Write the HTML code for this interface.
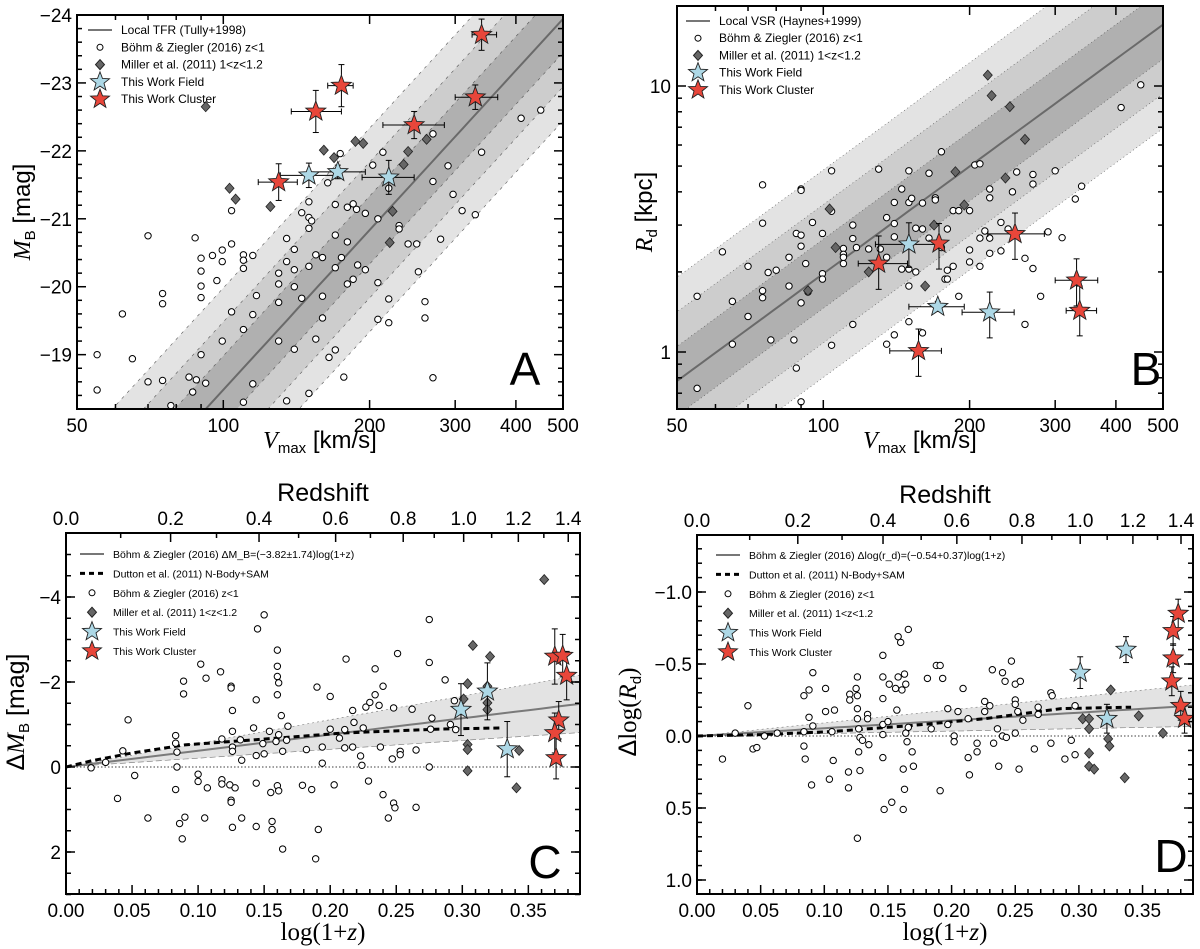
<!DOCTYPE html>
<html><head><meta charset="utf-8">
<style>
html,body{margin:0;padding:0;background:#fff;}
svg{display:block;font-family:"Liberation Sans",sans-serif;}
</style></head>
<body>
<svg id="fig" width="1200" height="949" viewBox="0 0 1200 949" xmlns="http://www.w3.org/2000/svg"></svg>
<script>
// ---------- Panel A data (Vmax km/s, M_B) ----------
const aCircV=[55,55,62,65,70,70,75,75,75,85,86.5,87.5,90,90,90,90,90,88,92,95,97,99.5,99.5,99.5,104,104,104,110,110,110,110,110,115,115,115,117,130,130,130,130,135,135,135,140,140,140,140,145,145,150,150,150,150,150,152,155,155,160,160,160,164,170,170,170,170,165,174,175,177,180,180,180,185,185,188,189,196,196,203,208,208,208,213,219,219,219,230,230,240,250,252,260,260,270,270,270,280,290,297,310,330,340,410,450,78];
const aCircM=[-19.0,-18.48,-19.6,-18.94,-20.75,-18.6,-19.9,-19.75,-18.62,-18.67,-18.45,-20.72,-20.42,-20.23,-20.01,-19.84,-19.0,-18.63,-18.58,-20.46,-20.09,-20.54,-20.37,-19.2,-21.12,-20.63,-19.63,-20.47,-20.39,-20.27,-19.37,-18.3,-20.46,-19.59,-18.57,-19.87,-20.2,-20.04,-19.77,-19.2,-20.71,-20.37,-18.32,-20.55,-20.25,-20.0,-19.08,-19.83,-21.09,-21.25,-21.02,-20.86,-20.3,-18.43,-20.97,-20.47,-19.23,-20.43,-19.86,-19.54,-21.53,-21.21,-20.76,-20.28,-19.07,-18.96,-21.96,-20.43,-18.67,-20.66,-20.04,-21.17,-21.22,-20.11,-21.14,-20.32,-21.08,-20.25,-21.79,-21.0,-20.06,-19.52,-21.98,-21.45,-19.82,-19.47,-20.9,-20.85,-20.63,-20.63,-20.22,-19.78,-19.54,-22.25,-21.55,-18.66,-20.7,-21.78,-21.36,-21.12,-21.06,-21.98,-22.48,-22.6,-18.25];
const aDiaV=[92,103,106,125,161,169,187,194,223,220,235,240,262];
const aDiaM=[-22.65,-21.45,-21.29,-21.18,-22.01,-21.9,-22.14,-22.11,-21.11,-20.65,-21.8,-21.99,-22.17];
const aFieldV=[150,172,219];
const aFieldM=[-21.64,-21.69,-21.61];
const aFieldVlo=[131,149,193];
const aFieldVhi=[172,196,247];
const aFieldMerr=[0.18,0.1,0.25];
const aClusV=[130,155,175,247,330,340];
const aClusM=[-21.54,-22.58,-22.96,-22.38,-22.79,-23.71];
const aClusVlo=[118,138,164,213,300,325];
const aClusVhi=[142,175,185,285,367,365];
const aClusMerr=[0.27,0.31,0.31,0.2,0.18,0.23];
const aXTicks=[50,100,200,300,400,500];
const aXMinor=[60,70,80,90];
const aYTicks=[-24,-23,-22,-21,-20,-19];

// ---------- Panel B data (Vmax km/s, R_d kpc) ----------
const bCircV=[55,55,62,65,65,70,70,75,75,75,75,77,78,80,85,85,87,88,90,90,90,90,90,90,88,92,93,95,99.6,99.6,99.6,104,104,104,110,110,110,110,115,115,115,117,124,130,131,135,135,135,140,140,140,140,145,145,150,150,150,150,150,152,155,155,160,160,160,165,165,170,170,175,175,180,180,178,180,185,185,190,190,200,200,200,205,210,210,210,215,220,220,220,220,232,232,240,245,250,260,260,270,270,270,280,290,300,310,330,340,410,450];
const bCircR=[1.62,0.73,2.38,1.55,1.07,2.1,1.36,4.25,3.05,1.7,1.6,1.99,1.11,2.03,2.27,1.77,1.11,2.79,4.1,4.05,2.75,2.5,1.53,0.65,0.87,2.15,1.68,3.07,2.79,1.97,1.88,4.8,3.38,1.06,2.45,2.33,2.27,2.15,3.0,2.67,1.27,2.47,2.44,4.87,2.44,3.2,1.07,2.27,3.65,3.04,2.71,1.16,4.1,2.05,4.8,3.65,2.05,1.77,1.3,3.78,2.92,2.0,2.9,3.63,1.18,4.7,2.68,3.8,3.73,5.66,2.47,2.9,2.03,1.88,1.88,3.4,2.1,1.62,3.4,3.4,2.42,2.18,5.05,5.1,2.68,2.1,2.85,4.1,3.8,2.68,2.35,3.07,2.4,2.9,4.0,4.75,2.25,1.27,4.65,4.28,2.06,1.62,2.83,4.8,2.69,3.76,4.2,8.3,10.1];
const bDiaV=[218,222,242,260,187,195,237,103,106,169,124,93,162];
const bDiaR=[10.99,9.2,8.36,6.3,4.76,3.57,4.51,3.45,2.47,3.0,2.0,1.7,1.77];
const bFieldV=[150,172,220];
const bFieldR=[2.54,1.48,1.41];
const bFieldVlo=[128,150,193];
const bFieldVhi=[175,195,247];
const bFieldRlo=[2.08,1.42,1.13];
const bFieldRhi=[3.06,1.55,1.68];
const bClusV=[130,173,248,332,337,157];
const bClusR=[2.15,2.56,2.78,1.86,1.43,1.01];
const bClusVlo=[118,173,218,300,316,137];
const bClusVhi=[149,173,285,367,365,175];
const bClusRlo=[1.72,2.05,2.23,1.49,1.15,0.81];
const bClusRhi=[2.73,3.04,3.33,2.24,1.77,1.22];
const bXTicks=[50,100,200,300,400,500];
const bYTicks=[1,10];
const bYMinor=[0.7,0.8,0.9,2,3,4,5,6,7,8,9,20];

// ---------- Panel C data (log(1+z), ΔM_B) ----------
const cCircX=[0.019,0.030,0.039,0.043,0.047,0.052,0.062,0.083,0.083,0.084,0.084,0.083,0.086,0.088,0.089,0.089,0.090,0.100,0.100,0.102,0.105,0.106,0.107,0.117,0.118,0.118,0.118,0.124,0.125,0.125,0.125,0.125,0.126,0.126,0.126,0.126,0.126,0.128,0.132,0.133,0.133,0.142,0.144,0.144,0.144,0.144,0.145,0.149,0.150,0.150,0.154,0.155,0.156,0.156,0.159,0.160,0.160,0.160,0.160,0.160,0.161,0.161,0.161,0.163,0.164,0.164,0.167,0.168,0.179,0.182,0.186,0.190,0.189,0.191,0.194,0.194,0.200,0.200,0.203,0.207,0.211,0.211,0.212,0.217,0.217,0.218,0.223,0.224,0.225,0.227,0.229,0.230,0.234,0.234,0.237,0.238,0.240,0.240,0.244,0.247,0.248,0.248,0.249,0.251,0.253,0.253,0.262,0.265,0.265,0.275,0.275,0.275,0.276,0.277,0.287,0.291,0.294,0.295];
const cCircY=[0.02,-0.11,0.74,-0.38,-1.11,0.2,1.2,-0.74,-0.56,-0.35,0,0.53,1.33,1.69,-1.72,-2.02,1.18,0.17,0.34,-2.42,1.2,-2.09,0.49,-2.24,-0.66,0.3,0.4,0.42,-1.9,-1.86,0.78,0.83,-1.33,-0.84,-0.47,-0.37,1.42,0.49,-0.64,-0.16,1.2,-0.92,-1.58,-0.27,0.38,1.4,-3.25,-0.55,-0.31,-3.58,-0.84,0.6,1.28,1.47,-0.6,0.44,-1.7,-2.75,-2.37,-2.13,-1.98,-0.76,0.56,-1.21,-0.37,1.93,-0.63,-0.96,0.43,-0.41,0.53,-1.88,2.16,1.47,-0.09,-0.47,-1.66,-0.89,0.42,-0.68,-0.88,-0.45,-2.54,-1.33,-0.47,-1.05,-0.26,-0.04,-0.92,-1.41,0.33,-1.52,-2.31,-1.7,-1.45,-0.47,0.65,-1.9,1.2,-0.19,-1.39,0.85,0.96,-2.67,-0.37,-0.29,-1.36,-0.4,0.95,0.0,-3.47,-2.46,-0.89,-1.15,-2.05,-1.0,-1.56,-0.88];
const cDiaX=[0.362,0.308,0.321,0.304,0.301,0.319,0.319,0.319,0.304,0.304,0.304,0.343,0.341];
const cDiaY=[-4.41,-2.86,-2.6,-1.96,-1.6,-1.9,-1.51,-1.35,-0.53,-0.41,0.09,-0.39,0.49];
const cFieldX=[0.299,0.319,0.334];
const cFieldY=[-1.35,-1.78,-0.42];
const cFieldErr=[0.61,0.67,0.65];
const cClusX=[0.370,0.376,0.379,0.373,0.370,0.371];
const cClusY=[-2.6,-2.62,-2.15,-1.1,-0.8,-0.21];
const cClusErr=[0.65,0.5,0.57,0.44,0.47,0.49];
const cDutX=[0,0.02,0.05,0.09,0.16,0.21,0.28,0.33];
const cDutY=[0,-0.15,-0.33,-0.52,-0.68,-0.8,-0.89,-0.92];
const cXTicks=[0,0.05,0.10,0.15,0.20,0.25,0.30,0.35];
const cXLabels=["0.00","0.05","0.10","0.15","0.20","0.25","0.30","0.35"];
const cYTicks=[-4,-2,0,2];
const cYLabels=["\u22124","\u22122","0","2"];

// ---------- Panel D data (log(1+z), Δlog R_d) ----------
const dCircX=[0.020,0.030,0.040,0.044,0.047,0.053,0.063,0.084,0.084,0.084,0.085,0.088,0.088,0.090,0.091,0.091,0.101,0.101,0.104,0.106,0.107,0.108,0.119,0.119,0.120,0.120,0.125,0.126,0.126,0.126,0.126,0.127,0.127,0.128,0.126,0.128,0.130,0.134,0.134,0.135,0.146,0.146,0.146,0.146,0.146,0.146,0.147,0.150,0.151,0.153,0.156,0.157,0.158,0.158,0.160,0.161,0.162,0.163,0.162,0.163,0.164,0.164,0.165,0.166,0.166,0.169,0.170,0.181,0.184,0.188,0.191,0.193,0.191,0.197,0.197,0.202,0.202,0.205,0.209,0.213,0.213,0.214,0.220,0.220,0.226,0.226,0.230,0.232,0.233,0.236,0.237,0.240,0.240,0.242,0.243,0.247,0.250,0.250,0.250,0.250,0.252,0.253,0.254,0.256,0.265,0.268,0.268,0.278,0.278,0.279,0.289,0.294,0.297,0.297];
const dCircY=[0.16,-0.02,-0.21,0.09,0.08,0,-0.02,-0.28,-0.03,0.07,0.16,-0.13,-0.32,0.34,-0.07,-0.44,-0.17,-0.33,0.3,-0.03,0.17,-0.18,0.25,0.36,-0.29,-0.25,-0.33,-0.41,-0.28,-0.19,-0.12,-0.05,0.11,0.24,0.71,0.01,0.03,-0.15,-0.12,0.06,-0.41,-0.26,-0.08,-0.01,0.15,-0.56,0.51,-0.1,-0.36,0.46,-0.33,-0.18,-0.69,-0.41,-0.65,-0.32,0.23,0.37,0.51,-0.43,-0.36,-0.02,0.04,-0.74,-0.06,0.11,0.21,-0.4,-0.05,-0.49,-0.49,-0.4,0.38,-0.19,-0.08,0,0.04,-0.17,-0.33,-0.12,0.15,0.27,0.05,0.11,-0.17,-0.24,-0.21,-0.46,0.05,-0.05,0.21,-0.44,0,-0.38,0.01,-0.52,-0.36,-0.25,-0.22,-0.02,-0.17,0.23,-0.38,-0.11,0.09,-0.15,-0.2,0.05,-0.3,-0.28,0.16,0.03,0.13,-0.21];
const dDiaX=[0.325,0.303,0.308,0.308,0.308,0.308,0.312,0.323,0.324,0.347,0.336,0.366];
const dDiaY=[-0.32,-0.12,-0.12,-0.05,0.12,0.21,0.23,0.02,0.07,-0.14,0.29,-0.02];
const dFieldX=[0.301,0.337,0.322];
const dFieldY=[-0.44,-0.6,-0.12];
const dFieldErr=[0.11,0.09,0.1];
const dClusX=[0.378,0.374,0.374,0.373,0.380,0.383];
const dClusY=[-0.85,-0.73,-0.54,-0.38,-0.21,-0.12];
const dClusErr=[0.1,0.1,0.1,0.1,0.1,0.1];
const dDutX=[0,0.052,0.104,0.165,0.226,0.286,0.341];
const dDutY=[0,-0.01,-0.03,-0.07,-0.12,-0.19,-0.2];
const dXTicks=[0,0.05,0.10,0.15,0.20,0.25,0.30,0.35];
const dXLabels=["0.00","0.05","0.10","0.15","0.20","0.25","0.30","0.35"];
const dYTicks=[-1.0,-0.5,0,0.5,1.0];
const dYLabels=["\u22121.0","\u22120.5","0.0","0.5","1.0"];

const zTicks=[0,0.2,0.4,0.6,0.8,1.0,1.2,1.4];
const zLabels=["0.0","0.2","0.4","0.6","0.8","1.0","1.2","1.4"];
const zMinor=[0.1,0.3,0.5,0.7,0.9,1.1,1.3];

// ---------- rendering ----------
const NS='http://www.w3.org/2000/svg';
const svg=document.getElementById('fig');
function mk(tag,attrs,parent){const e=document.createElementNS(NS,tag);for(const k in attrs)e.setAttribute(k,attrs[k]);(parent||svg).appendChild(e);return e;}
function starD(cx,cy,R){let d='';for(let i=0;i<10;i++){const r=i%2?R*0.42:R;const a=-Math.PI/2+i*Math.PI/5;d+=(i?'L':'M')+(cx+r*Math.cos(a)).toFixed(1)+' '+(cy+r*Math.sin(a)).toFixed(1);}return d+'Z';}
const L10=Math.log10;

function makePanel(id,x0,x1,y0,y1){
  const g=mk('g',{},svg);
  
  
  const cp=mk('clipPath',{id:'clip-'+id},g);
  mk('rect',{x:x0,y:y0,width:x1-x0,height:y1-y0},cp);
  const inner=mk('g',{'clip-path':'url(#clip-'+id+')'},g);
  
  
  return {g,inner,x0,x1,y0,y1};
}
function frame(P){
  const r=mk('rect',{x:P.x0,y:P.y0,width:P.x1-P.x0,height:P.y1-P.y0,fill:'none',stroke:'#000','stroke-width':2},P.g);
  
  
}
function tickX(P,px,len,top,bottom){
  if(bottom){const t=mk('line',{x1:px,x2:px,y1:P.y1,y2:P.y1-len,stroke:'#000','stroke-width':1.5},P.g);}
  if(top){const t=mk('line',{x1:px,x2:px,y1:P.y0,y2:P.y0+len,stroke:'#000','stroke-width':1.5},P.g);}
}
function tickY(P,py,len){
  const t=mk('line',{x1:P.x0,x2:P.x0+len,y1:py,y2:py,stroke:'#000','stroke-width':1.5},P.g);
  
  
  const t2=mk('line',{x1:P.x1,x2:P.x1-len,y1:py,y2:py,stroke:'#000','stroke-width':1.5},P.g);
  
  
}
function label(P,x,y,txt,size,anchor,name){
  const t=mk('text',{x:x,y:y,'font-size':size,'text-anchor':anchor||'middle',fill:'#000'},P?P.g:svg);
  t.textContent=txt;
  
  
  return t;
}
function circ(P,x,y){const c=mk('circle',{cx:x,cy:y,r:3.2,fill:'#fff',stroke:'#000','stroke-width':1},P.inner);
  
  }
function dia(P,x,y){const c=mk('path',{d:`M${x} ${y-5}L${x+4.5} ${y}L${x} ${y+5}L${x-4.5} ${y}Z`,fill:'#666',stroke:'#222','stroke-width':0.8},P.inner);
  
  }
function star(P,x,y,color,name){const s=mk('path',{d:starD(x,y,10.5),fill:color,stroke:'#222','stroke-width':0.9},P.inner);
  
  }
function ebar(P,xa,ya,xb,yb,cap,vertical){
  const l=mk('line',{x1:xa,y1:ya,x2:xb,y2:yb,stroke:'#000','stroke-width':1},P.inner);
  
  
  if(cap){
    if(vertical){mk('line',{x1:xa-3,x2:xa+3,y1:ya,y2:ya,stroke:'#000','stroke-width':1},P.inner);mk('line',{x1:xb-3,x2:xb+3,y1:yb,y2:yb,stroke:'#000','stroke-width':1},P.inner);}
    else{mk('line',{x1:xa,x2:xa,y1:ya-3,y2:ya+3,stroke:'#000','stroke-width':1},P.inner);mk('line',{x1:xb,x2:xb,y1:yb-3,y2:yb+3,stroke:'#000','stroke-width':1},P.inner);}
  }
}
function band(P,fnLo,fnHi,xs,fill,name){
  let d='';xs.forEach((v,i)=>{const p=fnHi(v);d+=(i?'L':'M')+p[0].toFixed(1)+' '+p[1].toFixed(1);});
  xs.slice().reverse().forEach(v=>{const p=fnLo(v);d+='L'+p[0].toFixed(1)+' '+p[1].toFixed(1);});
  const b=mk('path',{d:d+'Z',fill:fill,stroke:'none'},P.inner);
  
  
}
function pline(P,pts,attrs,name){
  const l=mk('polyline',Object.assign({points:pts.map(p=>p[0].toFixed(1)+','+p[1].toFixed(1)).join(' '),fill:'none'},attrs),P.inner);
  
  
}
function legend(P,x,y0,dy,items,fs){
  items.forEach((it,i)=>{
    const y=y0+i*dy;
    if(it.k==='line'){const l=mk('line',{x1:x-12,x2:x+12,y1:y,y2:y,stroke:'#777','stroke-width':2},P.g);}
    if(it.k==='dash'){const l=mk('line',{x1:x-12,x2:x+12,y1:y,y2:y,stroke:'#000','stroke-width':3,'stroke-dasharray':'5,4'},P.g);}
    if(it.k==='circ'){const c=mk('circle',{cx:x,cy:y,r:3,fill:'#fff',stroke:'#000'},P.g);}
    if(it.k==='dia'){const c=mk('path',{d:`M${x} ${y-5}L${x+4.5} ${y}L${x} ${y+5}L${x-4.5} ${y}Z`,fill:'#666',stroke:'#222'},P.g);}
    if(it.k==='sf'||it.k==='sc'){const s=mk('path',{d:starD(x,y,10),fill:it.k==='sf'?'#add8e6':'#e8463a',stroke:'#222','stroke-width':0.9},P.g);}
    label(P,x+21,y+4,it.t,fs,'start','legend-entry');
  });
}

// ===== Panel A =====
(function(){
  const P=makePanel('panel-a',77,563,15,409);
  const sx=v=>77+486*L10(v/50), sy=m=>15+(m+24)*(394/5.8);
  const Mline=v=>-18.2-7.81*(L10(v)-L10(92));
  const vs=[];for(let v=40;v<=600;v*=1.05)vs.push(v);
  [[1.5,'#e3e3e3'],[1.0,'#cdcdcd'],[0.5,'#b0b0b0']].forEach(([w,f])=>band(P,v=>[sx(v),sy(Mline(v)+w)],v=>[sx(v),sy(Mline(v)-w)],vs,f,'tfr-scatter-band'));
  [-1.5,-1,-0.5,0.5,1,1.5].forEach(w=>pline(P,vs.map(v=>[sx(v),sy(Mline(v)+w)]),{stroke:'#555','stroke-width':0.6,'stroke-dasharray':'3,5'},'band-edge'));
  pline(P,vs.map(v=>[sx(v),sy(Mline(v))]),{stroke:'#6a6a6a','stroke-width':2},'local-tfr-line');
  aCircV.forEach((v,i)=>circ(P,sx(v),sy(aCircM[i])));
  aDiaV.forEach((v,i)=>dia(P,sx(v),sy(aDiaM[i])));
  aFieldV.forEach((v,i)=>{ebar(P,sx(aFieldVlo[i]),sy(aFieldM[i]),sx(aFieldVhi[i]),sy(aFieldM[i]),true,false);ebar(P,sx(v),sy(aFieldM[i]-aFieldMerr[i]),sx(v),sy(aFieldM[i]+aFieldMerr[i]),true,true);});
  aClusV.forEach((v,i)=>{ebar(P,sx(aClusVlo[i]),sy(aClusM[i]),sx(aClusVhi[i]),sy(aClusM[i]),true,false);ebar(P,sx(v),sy(aClusM[i]-aClusMerr[i]),sx(v),sy(aClusM[i]+aClusMerr[i]),true,true);});
  aFieldV.forEach((v,i)=>star(P,sx(v),sy(aFieldM[i]),'#add8e6','field-star'));
  aClusV.forEach((v,i)=>star(P,sx(v),sy(aClusM[i]),'#e8463a','cluster-star'));
  frame(P);
  aXTicks.forEach(v=>{tickX(P,sx(v),9,true,true);label(P,sx(v),432,String(v),19);});
  aXMinor.forEach(v=>tickX(P,sx(v),5,true,true));
  aYTicks.forEach(m=>{tickY(P,sy(m),9);label(P,72,sy(m)+7,'\u2212'+Math.abs(m),19,'end');});
  for(let m=-23.8;m<=-18.2;m+=0.2){if(Math.abs(m-Math.round(m))>0.05)tickY(P,sy(m),5);}
  label(P,525,385,'A',46,'middle','panel-letter');
  const xt=label(P,320,448,'',24,'middle','x-axis-title');xt.innerHTML='<tspan font-family="Liberation Serif" font-style="italic">V</tspan><tspan font-size="15" dy="5">max</tspan><tspan dy="-5"> [km/s]</tspan>';
  const yt=label(P,0,0,'',24,'middle','y-axis-title');yt.setAttribute('transform','translate(30,212) rotate(-90)');yt.innerHTML='<tspan font-family="Liberation Serif" font-style="italic">M</tspan><tspan font-size="15" dy="5">B</tspan><tspan dy="-5"> [mag]</tspan>';
  legend(P,100,30,17.3,[{k:'line',t:'Local TFR (Tully+1998)'},{k:'circ',t:'Böhm & Ziegler (2016) z<1'},{k:'dia',t:'Miller et al. (2011) 1<z<1.2'},{k:'sf',t:'This Work Field'},{k:'sc',t:'This Work Cluster'}],12);
})();

// ===== Panel B =====
(function(){
  const P=makePanel('panel-b',677,1163,6,409);
  const sx=v=>677+486*L10(v/50), sy=r=>352-266*L10(r);
  const Rl=v=>L10(0.778)+1.34*L10(v/50);
  const vs=[];for(let v=40;v<=600;v*=1.05)vs.push(v);
  [[0.39,'#e3e3e3'],[0.26,'#cdcdcd'],[0.13,'#b0b0b0']].forEach(([w,f])=>band(P,v=>[sx(v),sy(Math.pow(10,Rl(v)-w))],v=>[sx(v),sy(Math.pow(10,Rl(v)+w))],vs,f,'vsr-scatter-band'));
  [-0.39,-0.26,-0.13,0.13,0.26,0.39].forEach(w=>pline(P,vs.map(v=>[sx(v),sy(Math.pow(10,Rl(v)+w))]),{stroke:'#555','stroke-width':0.6,'stroke-dasharray':'1,3'},'band-edge'));
  pline(P,vs.map(v=>[sx(v),sy(Math.pow(10,Rl(v)))]),{stroke:'#6a6a6a','stroke-width':2},'local-vsr-line');
  bCircV.forEach((v,i)=>circ(P,sx(v),sy(bCircR[i])));
  bDiaV.forEach((v,i)=>dia(P,sx(v),sy(bDiaR[i])));
  bFieldV.forEach((v,i)=>{ebar(P,sx(bFieldVlo[i]),sy(bFieldR[i]),sx(bFieldVhi[i]),sy(bFieldR[i]),true,false);ebar(P,sx(v),sy(bFieldRlo[i]),sx(v),sy(bFieldRhi[i]),true,true);});
  bClusV.forEach((v,i)=>{ebar(P,sx(bClusVlo[i]),sy(bClusR[i]),sx(bClusVhi[i]),sy(bClusR[i]),true,false);ebar(P,sx(v),sy(bClusRlo[i]),sx(v),sy(bClusRhi[i]),true,true);});
  bFieldV.forEach((v,i)=>star(P,sx(v),sy(bFieldR[i]),'#add8e6','field-star'));
  bClusV.forEach((v,i)=>star(P,sx(v),sy(bClusR[i]),'#e8463a','cluster-star'));
  frame(P);
  bXTicks.forEach(v=>{tickX(P,sx(v),9,true,true);label(P,sx(v),432,String(v),19);});
  aXMinor.forEach(v=>tickX(P,sx(v),5,true,true));
  bYTicks.forEach(r=>{tickY(P,sy(r),9);label(P,671,sy(r)+7,String(r),19,'end');});
  bYMinor.forEach(r=>tickY(P,sy(r),5));
  label(P,1146,385,'B',46,'middle','panel-letter');
  const xt=label(P,920,448,'',24,'middle','x-axis-title');xt.innerHTML='<tspan font-family="Liberation Serif" font-style="italic">V</tspan><tspan font-size="15" dy="5">max</tspan><tspan dy="-5"> [km/s]</tspan>';
  const yt=label(P,0,0,'',24,'middle','y-axis-title');yt.setAttribute('transform','translate(652,212) rotate(-90)');yt.innerHTML='<tspan font-family="Liberation Serif" font-style="italic">R</tspan><tspan font-size="15" dy="5">d</tspan><tspan dy="-5"> [kpc]</tspan>';
  legend(P,698,21,17.2,[{k:'line',t:'Local VSR (Haynes+1999)'},{k:'circ',t:'Böhm & Ziegler (2016) z<1'},{k:'dia',t:'Miller et al. (2011) 1<z<1.2'},{k:'sf',t:'This Work Field'},{k:'sc',t:'This Work Cluster'}],12);
})();

// ===== Evolution panels C & D =====
function evoPanel(id,x0,x1,y0,y1,sx,sy,o){
  const P=makePanel(id,x0,x1,y0,y1);
  const xs=[];for(let x=0;x<=0.4;x+=0.01)xs.push(x);
  band(P,x=>[sx(x),sy(o.lo*x)],x=>[sx(x),sy(o.hi*x)],xs,'#e3e3e3','fit-uncertainty-band');
  pline(P,xs.map(x=>[sx(x),sy(o.hi*x)]),{stroke:'#777','stroke-width':0.6,'stroke-dasharray':'2,3'},'band-edge');
  pline(P,xs.map(x=>[sx(x),sy(o.lo*x)]),{stroke:'#777','stroke-width':0.6,'stroke-dasharray':'6,3'},'band-edge');
  pline(P,[[sx(0),sy(0)],[sx(0.4),sy(0)]],{stroke:'#000','stroke-width':0.8,'stroke-dasharray':'1.5,2'},'zero-line');
  pline(P,xs.map(x=>[sx(x),sy(o.fit*x)]),{stroke:'#7a7a7a','stroke-width':2},'bz16-fit-line');
  pline(P,o.dutX.map((x,i)=>[sx(x),sy(o.dutY[i])]),{stroke:'#000','stroke-width':3,'stroke-dasharray':'6,4'},'dutton11-model-line');
  o.cx.forEach((x,i)=>circ(P,sx(x),sy(o.cy[i])));
  o.dx.forEach((x,i)=>dia(P,sx(x),sy(o.dy[i])));
  o.fx.forEach((x,i)=>ebar(P,sx(x),sy(o.fy[i]-o.fe[i]),sx(x),sy(o.fy[i]+o.fe[i]),true,true));
  o.kx.forEach((x,i)=>ebar(P,sx(x),sy(o.ky[i]-o.ke[i]),sx(x),sy(o.ky[i]+o.ke[i]),true,true));
  o.fx.forEach((x,i)=>star(P,sx(x),sy(o.fy[i]),'#add8e6','field-star'));
  o.kx.forEach((x,i)=>star(P,sx(x),sy(o.ky[i]),'#e8463a','cluster-star'));
  frame(P);
  o.xt.forEach((x,i)=>{tickX(P,sx(x),9,false,true);label(P,sx(x),y1+23,o.xl[i],19);});
  for(let x=0.01;x<0.39;x+=0.01){if(Math.abs(x*20-Math.round(x*20))>0.01)tickX(P,sx(x),5,false,true);}
  zTicks.forEach((z,i)=>{tickX(P,sx(L10(1+z)),9,true,false);label(P,sx(L10(1+z)),y0-8,zLabels[i],19,'middle','redshift-tick-label');});
  zMinor.forEach(z=>tickX(P,sx(L10(1+z)),5,true,false));
  o.yt.forEach((y,i)=>{tickY(P,sy(y),9);label(P,x0-5,sy(y)+7,o.yl[i],19,'end');});
  for(let y=o.ymin;y<=o.ymax+1e-6;y+=o.ystep)tickY(P,sy(y),5);
  label(P,(x0+x1)/2,y0-32,'Redshift',25,'middle','top-axis-title');
  const xt=label(P,(x0+x1)/2,y1+46,'',25,'middle','x-axis-title');xt.innerHTML='<tspan font-family="Liberation Serif">log(1+<tspan font-style="italic">z</tspan>)</tspan>';
  label(P,o.letX,o.letY,o.letter,46,'middle','panel-letter');
  legend(P,o.legX,o.legY,19.4,[{k:'line',t:o.fitLabel},{k:'dash',t:'Dutton et al. (2011) N-Body+SAM'},{k:'circ',t:'Böhm & Ziegler (2016) z<1'},{k:'dia',t:'Miller et al. (2011) 1<z<1.2'},{k:'sf',t:'This Work Field'},{k:'sc',t:'This Work Cluster'}],10.5);
  return P;
}
(function(){
  const sx=x=>66+1321*x, sy=y=>767+42.5*y;
  const P=evoPanel('panel-c',66,580,533,894,sx,sy,{lo:-2.08,hi:-5.56,fit:-3.82,dutX:cDutX,dutY:cDutY,cx:cCircX,cy:cCircY,dx:cDiaX,dy:cDiaY,fx:cFieldX,fy:cFieldY,fe:cFieldErr,kx:cClusX,ky:cClusY,ke:cClusErr,xt:cXTicks,xl:cXLabels,yt:cYTicks,yl:cYLabels,ymin:-5.5,ymax:3,ystep:0.5,letX:545,letY:878,letter:'C',legX:92,legY:554,fitLabel:'Böhm & Ziegler (2016) ΔM_B=(−3.82±1.74)log(1+z)'});
  const yt=label(P,0,0,'',25,'middle','y-axis-title');yt.setAttribute('transform','translate(24,712) rotate(-90)');yt.innerHTML='<tspan>Δ</tspan><tspan font-family="Liberation Serif" font-style="italic">M</tspan><tspan font-size="15" dy="5">B</tspan><tspan dy="-5"> [mag]</tspan>';
})();
(function(){
  const sx=x=>697+1273*x, sy=y=>736+144*y;
  const P=evoPanel('panel-d',697,1193,535,894,sx,sy,{lo:-0.17,hi:-0.91,fit:-0.54,dutX:dDutX,dutY:dDutY,cx:dCircX,cy:dCircY,dx:dDiaX,dy:dDiaY,fx:dFieldX,fy:dFieldY,fe:dFieldErr,kx:dClusX,ky:dClusY,ke:dClusErr,xt:dXTicks,xl:dXLabels,yt:dYTicks,yl:dYLabels,ymin:-1.3,ymax:1.0,ystep:0.1,letX:1171,letY:872,letter:'D',legX:728,legY:555,fitLabel:'Böhm & Ziegler (2016) Δlog(r_d)=(−0.54+0.37)log(1+z)'});
  const yt=label(P,0,0,'',25,'middle','y-axis-title');yt.setAttribute('transform','translate(636,712) rotate(-90)');yt.innerHTML='<tspan>Δ</tspan><tspan font-family="Liberation Serif">log(</tspan><tspan font-family="Liberation Serif" font-style="italic">R</tspan><tspan font-size="15" dy="5">d</tspan><tspan dy="-5" font-family="Liberation Serif">)</tspan>';
})();
</script>
</body></html>
